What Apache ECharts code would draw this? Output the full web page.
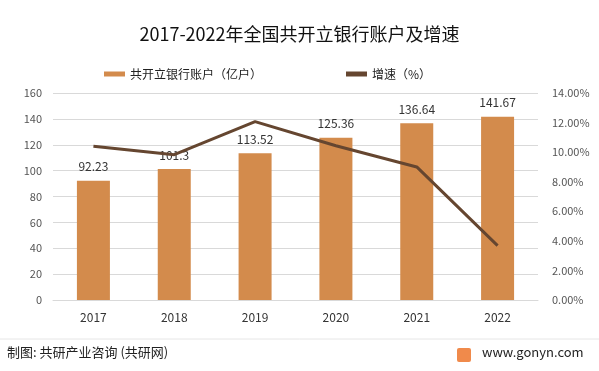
<!DOCTYPE html>
<html><head><meta charset="utf-8">
<script src="https://cdn.jsdelivr.net/npm/echarts@6/dist/echarts.min.js"></script>
<style>html,body{margin:0;padding:0;background:#fff}#c{width:599px;height:371px}</style>
</head><body><div id="c"></div>
<script>
const categories = ['2017','2018','2019','2020','2021','2022'];
const accounts = [92.23, 101.3, 113.52, 125.36, 136.64, 141.67];
const growth = [10.4, 9.83, 12.06, 10.43, 9.0, 3.68];
const leftTicks = {min:0, max:160, interval:20};
const rightTicks = {min:0, max:14, interval:2};

const chart = echarts.init(document.getElementById('c'));
const F = '"Noto Sans CJK SC", "Noto Sans", sans-serif';
chart.setOption({
  animation:false,
  textStyle:{fontFamily:F},
  title:{text:'2017-2022年全国共开立银行账户及增速', left:'center', top:20,
    textStyle:{fontSize:18, fontWeight:'normal', color:'#111', fontFamily:F}},
  legend:{top:63, left:99, itemGap:84, itemWidth:21, itemHeight:5,
    textStyle:{fontSize:12, color:'#222', fontFamily:F},
    data:[{name:'共开立银行账户（亿户）', icon:'rect'},{name:'增速（%）', icon:'rect'}]},
  grid:{left:53, right:61, top:93, bottom:71, containLabel:false},
  xAxis:{type:'category', data:categories,
    axisLine:{lineStyle:{color:'#d9d9d9'}}, axisTick:{show:false},
    axisLabel:{color:'#333', fontSize:12, margin:11}},
  yAxis:[
    {type:'value', min:leftTicks.min, max:leftTicks.max, interval:leftTicks.interval,
      axisLine:{show:false}, axisTick:{show:false},
      axisLabel:{color:'#555', fontSize:11, margin:11},
      splitLine:{lineStyle:{color:'#d9d9d9'}}},
    {type:'value', min:rightTicks.min, max:rightTicks.max, interval:rightTicks.interval,
      axisLine:{show:false}, axisTick:{show:false},
      axisLabel:{color:'#555', fontSize:11, margin:14, formatter:v=>v.toFixed(2)+'%'},
      splitLine:{show:false}}
  ],
  series:[
    {name:'共开立银行账户（亿户）', type:'bar', data:accounts, barWidth:33,
      itemStyle:{color:'#D38B4C'},
      label:{show:true, position:'top', distance:8, color:'#333', fontSize:12}},
    {name:'增速（%）', type:'line', yAxisIndex:1, data:growth,
      symbol:'none', lineStyle:{color:'#654630', width:3}, itemStyle:{color:'#654630'}}
  ],
  graphic:[
    {type:'line', shape:{x1:0,y1:339,x2:599,y2:339}, style:{stroke:'#e6e6e6', lineWidth:1}},
    {type:'text', left:7, top:346, style:{text:'制图: 共研产业咨询 (共研网)', fontSize:13, fill:'#222', fontFamily:F}},
    {type:'rect', shape:{x:457,y:348,width:14,height:14,r:2}, style:{fill:'#F08A4B'}},
    {type:'text', left:482, top:346, style:{text:'www.gonyn.com', fontSize:13, fill:'#222', fontFamily:F}}
  ]
});
</script></body></html>
